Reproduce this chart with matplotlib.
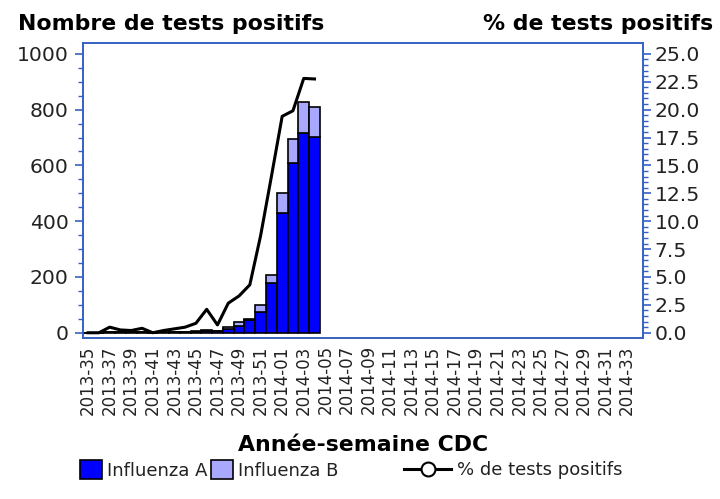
import matplotlib
matplotlib.use("Agg")
import matplotlib.pyplot as plt
from matplotlib.lines import Line2D
from matplotlib.patches import Patch
from matplotlib.ticker import FixedLocator
import numpy as np

# CDC weeks 2013-35 .. 2014-34
weeks = [f"2013-{w:02d}" for w in range(35, 53)] + [f"2014-{w:02d}" for w in range(1, 35)]

# weekly counts (data available up to 2014-04)
flu_a = [0, 0, 2, 1, 1, 2, 0, 1, 2, 3, 4, 7, 6, 14, 25, 45, 75, 177, 431, 608, 716, 701]
flu_b = [0, 0, 1, 1, 0, 1, 0, 1, 1, 1, 1, 2, 2, 8, 12, 4, 24, 30, 69, 87, 110, 108]
pct_pos = [0.0, 0.0, 0.5, 0.25, 0.2, 0.4, 0.0, 0.2, 0.35, 0.5, 0.85, 2.1, 0.7, 2.65,
           3.3, 4.3, 8.7, 14.0, 19.4, 19.9, 22.8, 22.75]

FRAME = "#3561C4"
TXT = "#222222"
COL_A = "#0000FF"
COL_B = "#A8A8FF"

fig = plt.figure(figsize=(7.2, 4.99), dpi=100)
ax = fig.add_axes([0.1149, 0.322, 0.7786, 0.5924])

x = np.arange(len(flu_a))
ax.bar(x, flu_a, width=1.0, color=COL_A, edgecolor="black", linewidth=1.2)
ax.bar(x, flu_b, width=1.0, bottom=flu_a, color=COL_B, edgecolor="black", linewidth=1.2)

ax2 = ax.twinx()
ax2.plot(x, pct_pos, color="black", linewidth=2.2)

ax.set_xlim(-0.5, len(weeks) - 0.5)
ax.set_ylim(-20, 1040)
ax2.set_ylim(-0.5, 26)

# x axis
ax.set_xticks(np.arange(0, len(weeks), 2))
ax.set_xticklabels(weeks[::2], rotation=90, fontsize=12, color=TXT)
ax.tick_params(axis="x", length=0, pad=5)

# left axis
ax.set_yticks(range(0, 1001, 200))
ax.yaxis.set_minor_locator(FixedLocator(range(0, 1001, 50)))
ax.tick_params(axis="y", which="major", length=6, width=1.2, color=FRAME,
               labelsize=14.7, labelcolor=TXT, pad=4)
ax.tick_params(axis="y", which="minor", length=3.5, width=1.0, color=FRAME)

# right axis
ax2.set_yticks(np.arange(0, 25.01, 2.5))
ax2.set_yticklabels([f"{v:.1f}" for v in np.arange(0, 25.01, 2.5)])
ax2.yaxis.set_minor_locator(FixedLocator(np.arange(0, 25.01, 0.5)))
ax2.tick_params(axis="y", which="major", length=6, width=1.2, color=FRAME,
                labelsize=14.7, labelcolor=TXT, pad=2)
ax2.tick_params(axis="y", which="minor", length=3.5, width=1.0, color=FRAME)

for a in (ax, ax2):
    for sp in a.spines.values():
        sp.set_color(FRAME)
        sp.set_linewidth(1.2)

# titles
fig.text(0.025, 0.952, "Nombre de tests positifs", fontsize=15.8, fontweight="bold",
         ha="left", va="center", color="black")
fig.text(0.990, 0.952, "% de tests positifs", fontsize=15.8, fontweight="bold",
         ha="right", va="center", color="black")
fig.text(0.504, 0.108, "Année-semaine CDC", fontsize=15.8, fontweight="bold",
         ha="center", va="center", color="black")

# legends
patches = [Patch(facecolor=COL_A, edgecolor="black", linewidth=1.2, label="Influenza A"),
           Patch(facecolor=COL_B, edgecolor="black", linewidth=1.2, label="Influenza B")]
leg1 = fig.legend(handles=patches, loc="center left", bbox_to_anchor=(0.0986, 0.058),
                  ncol=2, frameon=False, fontsize=13, handlelength=1.2, handleheight=1.2,
                  handletextpad=0.3, columnspacing=0.2, borderpad=0, labelcolor=TXT)
line_h = [Line2D([], [], color="black", linewidth=2.2, marker="o", markersize=10,
                 markerfacecolor="white", markeredgecolor="black", markeredgewidth=1.5,
                 label="% de tests positifs")]
leg2 = fig.legend(handles=line_h, loc="center left", bbox_to_anchor=(0.549, 0.058),
                  frameon=False, fontsize=13, handlelength=2.6, handletextpad=0.33,
                  borderpad=0, labelcolor=TXT)

fig.savefig("out.png", dpi=100)
